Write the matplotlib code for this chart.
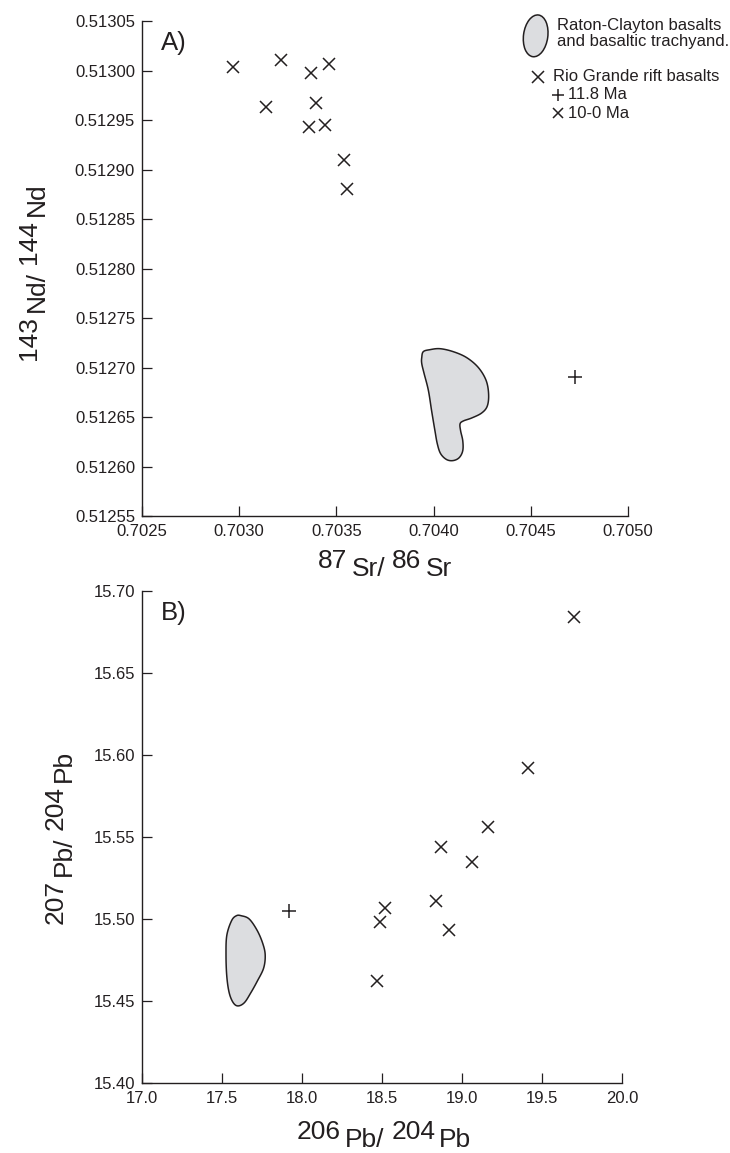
import numpy as np
import matplotlib.pyplot as plt
from matplotlib.patches import Polygon, Ellipse
from matplotlib.ticker import FormatStrFormatter

plt.rcParams['font.family'] = ['Liberation Sans', 'DejaVu Sans']
INK = '#231f20'
FILL = '#dcdde0'
plt.rcParams['text.color'] = INK
plt.rcParams['axes.edgecolor'] = INK
plt.rcParams['xtick.color'] = INK
plt.rcParams['ytick.color'] = INK

# ---- panel A: 87Sr/86Sr vs 143Nd/144Nd ----
sr_rgr = [0.70297, 0.703215, 0.703369, 0.70346, 0.703138,
          0.703395, 0.703358, 0.703443, 0.703538, 0.703556]
nd_rgr = [0.5130033, 0.5130111, 0.5129973, 0.5130061, 0.5129635,
          0.5129669, 0.5129426, 0.512945, 0.5129095, 0.5128801]
sr_old = [0.704725]
nd_old = [0.51269]
# Raton-Clayton field outline
sr_rc = [0.703939, 0.703947, 0.703981, 0.704033, 0.704101, 0.704170, 0.704230,
         0.704270, 0.704283, 0.704276, 0.704247, 0.704196, 0.704153, 0.704136,
         0.704139, 0.704150, 0.704150, 0.704132, 0.704101, 0.704067, 0.704036,
         0.704019, 0.704007, 0.703990, 0.703973, 0.703951, 0.703939]
nd_rc = [0.512710, 0.512716, 0.512718, 0.512719, 0.512716, 0.512710, 0.512700,
         0.512687, 0.512673, 0.512661, 0.512654, 0.512649, 0.512646, 0.512643,
         0.512636, 0.512626, 0.512616, 0.512609, 0.512606, 0.512607, 0.512613,
         0.512623, 0.512636, 0.512656, 0.512677, 0.512694, 0.512704]

# ---- panel B: 206Pb/204Pb vs 207Pb/204Pb ----
pb206_rgr = [19.70, 19.41, 19.16, 18.87, 19.06, 18.84, 18.52, 18.49, 18.92, 18.47]
pb207_rgr = [15.684, 15.592, 15.556, 15.544, 15.535, 15.511, 15.507, 15.498, 15.493, 15.462]
pb206_old = [17.92]
pb207_old = [15.505]
pb206_rc = [17.62, 17.67, 17.72, 17.755, 17.77, 17.76, 17.72, 17.68, 17.64, 17.60,
            17.57, 17.545, 17.53, 17.525, 17.53, 17.56, 17.59]
pb207_rc = [15.502, 15.500, 15.493, 15.485, 15.478, 15.470, 15.462, 15.455, 15.449,
            15.447, 15.449, 15.455, 15.465, 15.478, 15.490, 15.499, 15.502]

sr_ticks = [0.7025, 0.7030, 0.7035, 0.7040, 0.7045, 0.7050]
nd_ticks = np.linspace(0.51255, 0.51305, 11)
pb206_ticks = [17.0, 17.5, 18.0, 18.5, 19.0, 19.5, 20.0]
pb207_ticks = [15.40, 15.45, 15.50, 15.55, 15.60, 15.65, 15.70]

TICK_FS = 12
LEG_FS = 12
LAB_FS = 19


def smooth_closed(xs, ys, n=12):
    # closed Catmull-Rom curve through the outline points
    p = np.column_stack([xs, ys])
    if np.allclose(p[0], p[-1]):
        p = p[:-1]
    m = len(p)
    out = []
    for i in range(m):
        p0, p1, p2, p3 = p[i - 1], p[i], p[(i + 1) % m], p[(i + 2) % m]
        for t in np.linspace(0, 1, n, endpoint=False):
            t2, t3 = t * t, t * t * t
            out.append(0.5 * (2 * p1 + (-p0 + p2) * t + (2 * p0 - 5 * p1 + 4 * p2 - p3) * t2
                              + (-p0 + 3 * p1 - 3 * p2 + p3) * t3))
    return np.array(out)


def style(ax):
    for s in ['top', 'right']:
        ax.spines[s].set_visible(False)
    for s in ['left', 'bottom']:
        ax.spines[s].set_linewidth(1.0)
    ax.tick_params(direction='in', length=7, width=0.9, labelsize=TICK_FS)
    ax.tick_params(axis='x', pad=6)
    ax.tick_params(axis='y', pad=5)


def piece_label(fig, cx, cy, pieces, size=LAB_FS, vertical=False):
    # pieces: (text, drop_px, gap_px_before); centred at (cx, cy) in pixels
    r = fig.canvas.get_renderer()
    W, H = fig.bbox.width, fig.bbox.height
    arts, widths = [], []
    for s, drop, gap in pieces:
        t = fig.text(0, 0, s, fontsize=size, ha='left', va='baseline',
                     rotation_mode='anchor')
        widths.append(t.get_window_extent(r).width)
        arts.append(t)
    total = sum(widths) + sum(g for _, _, g in pieces)
    pos = -total / 2
    for t, w, (s, drop, gap) in zip(arts, widths, pieces):
        pos += gap
        if vertical:
            t.set_rotation(90)
            t.set_position(((cx + drop) / W, (cy + pos) / H))
        else:
            t.set_position(((cx + pos) / W, (cy - drop) / H))
        pos += w


fig = plt.figure(figsize=(7.3, 11.53), dpi=100)
W, H = 730, 1153

axA = fig.add_axes([142 / W, 1 - 516 / H, 486 / W, 495 / H])
axB = fig.add_axes([142 / W, 1 - 1083 / H, 480 / W, 492 / H])

# panel A
outA = smooth_closed(sr_rc, nd_rc)
axA.add_patch(Polygon(outA, closed=True, facecolor=FILL, edgecolor=INK, lw=1.1))
axA.plot(sr_rgr, nd_rgr, 'x', ms=9, mew=1.1, color=INK)
axA.plot(sr_old, nd_old, '+', ms=10, mew=1.1, color=INK)
axA.set_xlim(0.7025, 0.7050)
axA.set_ylim(0.51255, 0.51305)
axA.set_xticks(sr_ticks)
axA.set_yticks(nd_ticks)
axA.xaxis.set_major_formatter(FormatStrFormatter('%.4f'))
axA.yaxis.set_major_formatter(FormatStrFormatter('%.5f'))
style(axA)
axA.text(0.04, 0.955, 'A)', transform=axA.transAxes, fontsize=18.5, va='center')

# legend (in panel A axes fraction)
axA.add_patch(Ellipse((0.810, 0.970), 0.050, 0.085, angle=-8, transform=axA.transAxes,
                      facecolor=FILL, edgecolor=INK, lw=1.1, clip_on=False))
axA.text(0.854, 0.974, 'Raton-Clayton basalts\nand basaltic trachyand.',
         transform=axA.transAxes, fontsize=LEG_FS, va='center', linespacing=1.1)
axA.plot([0.815], [0.887], 'x', ms=9, mew=1.1, color=INK, transform=axA.transAxes, clip_on=False)
axA.text(0.846, 0.887, 'Rio Grande rift basalts', transform=axA.transAxes,
         fontsize=LEG_FS, va='center')
axA.plot([0.856], [0.851], '+', ms=8, mew=1.1, color=INK, transform=axA.transAxes, clip_on=False)
axA.text(0.877, 0.851, '11.8 Ma', transform=axA.transAxes, fontsize=LEG_FS, va='center')
axA.plot([0.856], [0.814], 'x', ms=7, mew=1.1, color=INK, transform=axA.transAxes, clip_on=False)
axA.text(0.877, 0.814, '10-0 Ma', transform=axA.transAxes, fontsize=LEG_FS, va='center')

# panel B
outB = smooth_closed(pb206_rc, pb207_rc)
axB.add_patch(Polygon(outB, closed=True, facecolor=FILL, edgecolor=INK, lw=1.1))
axB.plot(pb206_rgr, pb207_rgr, 'x', ms=9, mew=1.1, color=INK)
axB.plot(pb206_old, pb207_old, '+', ms=10, mew=1.1, color=INK)
axB.set_xlim(17.0, 20.0)
axB.set_ylim(15.40, 15.70)
axB.set_xticks(pb206_ticks)
axB.set_yticks(pb207_ticks)
axB.xaxis.set_major_formatter(FormatStrFormatter('%.1f'))
axB.yaxis.set_major_formatter(FormatStrFormatter('%.2f'))
style(axB)
axB.text(0.04, 0.955, 'B)', transform=axB.transAxes, fontsize=18.5, va='center')

# axis titles: numbers on the baseline, element names dropped
piece_label(fig, 385, H - 568, [('87', 0, 0), ('Sr/', 8, 4), ('86', 0, 7), ('Sr', 8, 4)])
piece_label(fig, 36, H - 271, [('143', 0, 0), ('Nd/', 8, 4), ('144', 0, 7), ('Nd', 8, 4)],
            vertical=True)
piece_label(fig, 384, H - 1139, [('206', 0, 0), ('Pb/', 8, 4), ('204', 0, 7), ('Pb', 8, 4)])
piece_label(fig, 63, H - 837, [('207', 0, 0), ('Pb/', 8, 4), ('204', 0, 7), ('Pb', 8, 4)],
            vertical=True)

fig.savefig('out.png', dpi=100)
